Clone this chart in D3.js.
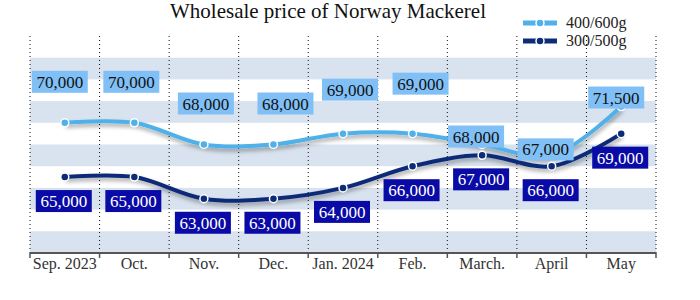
<!DOCTYPE html>
<html>
<head>
<meta charset="utf-8">
<script src="https://cdn.jsdelivr.net/npm/d3@7"></script>
<style>
  body { margin: 0; background: #fff; }
  svg { display: block; font-family: "Liberation Serif", serif; }
</style>
</head>
<body>
<svg width="700" height="300"></svg>
<script>
// data
var months = ["Sep. 2023", "Oct.", "Nov.", "Dec.", "Jan. 2024", "Feb.", "March.", "April", "May"];
var price400 = [70000, 70000, 68000, 68000, 69000, 69000, 68000, 67000, 71500];
var price300 = [65000, 65000, 63000, 63000, 64000, 66000, 67000, 66000, 69000];
var seriesNames = ["400/600g", "300/500g"];

// label nudges (pixels) so boxes sit like the original
var hiDx = [-5, -3, 2, 12, 7, 8, -6, -6, -5];
var hiDy = [-41, -41, -41, -41, -44, -50, -8, -6, -9];
var loDy = 24;

var svg = d3.select("svg");
var plotLeft = 30, plotRight = 656, plotTop = 36, plotBottom = 253;

var x = d3.scaleBand().domain(months).range([plotLeft, plotRight]);
var y = d3.scaleLinear().domain([58000, 78000]).range([plotBottom, plotTop]);

var colHi = "#4fb0ea", colLo = "#0d2c78";

// shadow filter
var defs = svg.append("defs");
var f = defs.append("filter").attr("id", "shadow")
    .attr("x", "-10%").attr("y", "-30%").attr("width", "120%").attr("height", "180%");
f.append("feDropShadow").attr("dx", 1).attr("dy", 3)
    .attr("stdDeviation", 2).attr("flood-color", "#000").attr("flood-opacity", 0.35);

// stripes every 2000
var stripes = d3.range(58000, 78000, 2000);
svg.append("g").selectAll("rect")
    .data(stripes.filter(function(d, i) { return i % 2 == 0; }))
    .enter().append("rect")
    .attr("x", plotLeft).attr("width", plotRight - plotLeft)
    .attr("y", function(d) { return y(d + 2000); })
    .attr("height", function(d) { return y(d) - y(d + 2000); })
    .attr("fill", "#d9e3ef");

// dotted vertical lines at category boundaries
var bounds = months.map(function(m) { return x(m); }).concat([plotRight]);
svg.append("g").selectAll("line")
    .data(bounds)
    .enter().append("line")
    .attr("x1", function(d) { return d; }).attr("x2", function(d) { return d; })
    .attr("y1", plotTop).attr("y2", plotBottom)
    .attr("stroke", "#111").attr("stroke-width", 1)
    .attr("stroke-dasharray", "1,3");

// x axis
var axis = svg.append("g").attr("transform", "translate(0," + plotBottom + ")");
axis.append("line").attr("x1", plotLeft).attr("x2", plotRight)
    .attr("stroke", "#555").attr("stroke-width", 2);
axis.selectAll(".tk").data(bounds).enter().append("line")
    .attr("x1", function(d) { return d; }).attr("x2", function(d) { return d; })
    .attr("y1", 0).attr("y2", 5)
    .attr("stroke", "#555").attr("stroke-width", 1.5);
axis.selectAll("text").data(months).enter().append("text")
    .attr("x", function(d) { return x(d) + x.bandwidth() / 2; })
    .attr("y", 16)
    .attr("text-anchor", "middle")
    .attr("font-size", 16)
    .attr("fill", "#333")
    .text(function(d) { return d; });

// title
svg.append("text")
    .attr("x", 328).attr("y", 18)
    .attr("text-anchor", "middle")
    .attr("font-size", 21)
    .attr("fill", "#111")
    .text("Wholesale price of Norway Mackerel");

var line = d3.line()
    .x(function(d, i) { return x(months[i]) + x.bandwidth() / 2; })
    .y(function(d) { return y(d); })
    .curve(d3.curveCatmullRom.alpha(0.5));

function drawSeries(values, colour) {
    svg.append("path")
        .datum(values)
        .attr("d", line)
        .attr("fill", "none")
        .attr("stroke", colour)
        .attr("stroke-width", 4)
        .attr("filter", "url(#shadow)");
}
drawSeries(price400, colHi);
drawSeries(price300, colLo);

function drawMarkers(values, colour) {
    svg.append("g").selectAll("circle")
        .data(values)
        .enter().append("circle")
        .attr("cx", function(d, i) { return x(months[i]) + x.bandwidth() / 2; })
        .attr("cy", function(d) { return y(d); })
        .attr("r", 4)
        .attr("fill", colour)
        .attr("stroke", "#fff")
        .attr("stroke-width", 1.5);
}
drawMarkers(price400, colHi);
drawMarkers(price300, colLo);

var fmt = d3.format(",");

function drawLabels(values, dxs, dys, boxFill, textFill) {
    var g = svg.append("g").selectAll("g")
        .data(values)
        .enter().append("g")
        .attr("transform", function(d, i) {
            var cx = x(months[i]) + x.bandwidth() / 2 + dxs(i);
            var cy = y(d) + dys(i);
            return "translate(" + cx + "," + cy + ")";
        });
    g.append("rect")
        .attr("x", -28).attr("y", -11)
        .attr("width", 56).attr("height", 22)
        .attr("fill", boxFill);
    g.append("text")
        .attr("text-anchor", "middle")
        .attr("y", 6)
        .attr("font-size", 17)
        .attr("fill", textFill)
        .text(function(d) { return fmt(d); });
}
drawLabels(price400, function(i) { return hiDx[i]; }, function(i) { return hiDy[i]; }, "#80c0f6", "#111");
drawLabels(price300, function(i) { return -1; }, function(i) { return loDy; }, "#0a0aa6", "#fff");

// legend
var legend = svg.append("g");
[colHi, colLo].forEach(function(c, i) {
    var ly = 23 + i * 18;
    legend.append("line").attr("x1", 523).attr("x2", 557)
        .attr("y1", ly).attr("y2", ly)
        .attr("stroke", c).attr("stroke-width", 5);
    legend.append("circle").attr("cx", 540).attr("cy", ly).attr("r", 4)
        .attr("fill", c).attr("stroke", "#fff").attr("stroke-width", 1.5);
    legend.append("text").attr("x", 566).attr("y", ly + 5)
        .attr("font-size", 16).attr("fill", "#222")
        .text(seriesNames[i]);
});
</script>
</body>
</html>
